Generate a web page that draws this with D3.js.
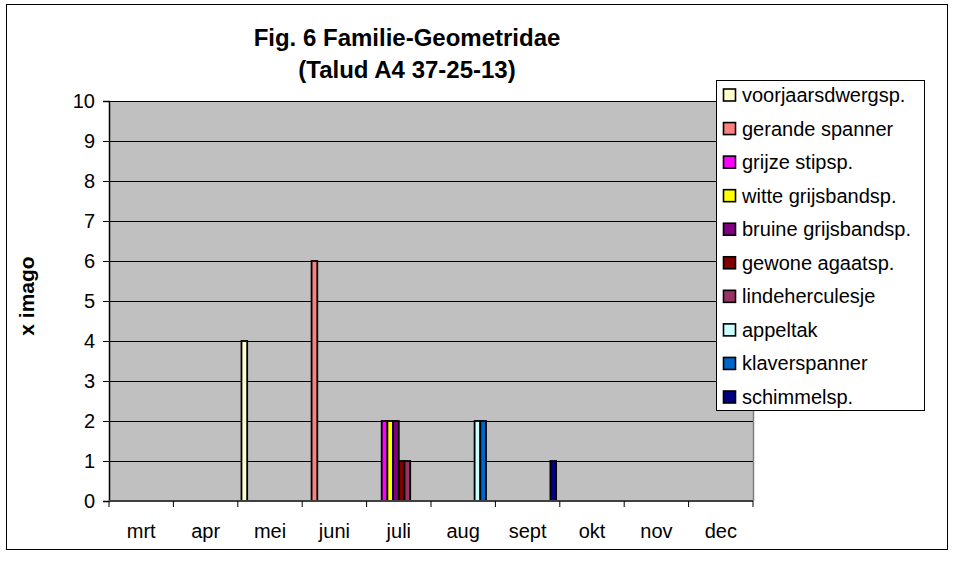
<!DOCTYPE html>
<html>
<head>
<meta charset="utf-8">
<script src="https://cdn.jsdelivr.net/npm/d3@7"></script>
<style>
  html, body { margin: 0; padding: 0; background: #fff; }
  svg { display: block; font-family: "Liberation Sans", Arial, sans-serif; }
</style>
</head>
<body>
<svg id="chart" width="957" height="567"></svg>
<script>
// ---- data ----
const months = ["mrt", "apr", "mei", "juni", "juli", "aug", "sept", "okt", "nov", "dec"];
const seriesNames = ["voorjaarsdwergsp.", "gerande spanner", "grijze stipsp.", "witte grijsbandsp.",
  "bruine grijsbandsp.", "gewone agaatsp.", "lindeherculesje", "appeltak", "klaverspanner", "schimmelsp."];
const seriesColors = ["#FFFFCC", "#FF8080", "#FF00FF", "#FFFF00", "#800080",
  "#800000", "#993366", "#CCFFFF", "#0066CC", "#000080"];
//                     mrt apr mei juni juli aug sept okt nov dec
const voorjaarsdwergsp = [0, 0, 4, 0, 0, 0, 0, 0, 0, 0];
const gerandeSpanner   = [0, 0, 0, 6, 0, 0, 0, 0, 0, 0];
const grijzeStipsp     = [0, 0, 0, 0, 2, 0, 0, 0, 0, 0];
const witteGrijsbandsp = [0, 0, 0, 0, 2, 0, 0, 0, 0, 0];
const bruineGrijsbandsp= [0, 0, 0, 0, 2, 0, 0, 0, 0, 0];
const gewoneAgaatsp    = [0, 0, 0, 0, 1, 0, 0, 0, 0, 0];
const lindeherculesje  = [0, 0, 0, 0, 1, 0, 0, 0, 0, 0];
const appeltak         = [0, 0, 0, 0, 0, 2, 0, 0, 0, 0];
const klaverspanner    = [0, 0, 0, 0, 0, 2, 0, 0, 0, 0];
const schimmelsp       = [0, 0, 0, 0, 0, 0, 1, 0, 0, 0];
const seriesValues = [voorjaarsdwergsp, gerandeSpanner, grijzeStipsp, witteGrijsbandsp,
  bruineGrijsbandsp, gewoneAgaatsp, lindeherculesje, appeltak, klaverspanner, schimmelsp];
const yTicks = [0, 1, 2, 3, 4, 5, 6, 7, 8, 9, 10];
const titleLines = ["Fig. 6 Familie-Geometridae", "(Talud A4 37-25-13)"];
const yTitle = "x imago";

// ---- layout ----
const svg = d3.select("#chart");
const plot = { left: 109, right: 753, top: 101, bottom: 501 };

// outer frame
svg.append("rect").attr("x", 6.5).attr("y", 4.5).attr("width", 941).attr("height", 545)
  .attr("fill", "#fff").attr("stroke", "#000").attr("stroke-width", 1);

const x0 = d3.scaleBand().domain(months).range([plot.left, plot.right]).padding(0);
const x1 = d3.scaleBand().domain(d3.range(seriesNames.length))
  .range([0, x0.bandwidth()]).paddingInner(0).paddingOuter(0.645);
const y = d3.scaleLinear().domain([0, 10]).range([plot.bottom, plot.top]);

// plot background
svg.append("rect").attr("x", plot.left).attr("y", plot.top)
  .attr("width", plot.right - plot.left).attr("height", plot.bottom - plot.top)
  .attr("fill", "#C0C0C0");
// right border of plot
svg.append("line").attr("x1", plot.right + 0.5).attr("x2", plot.right + 0.5)
  .attr("y1", plot.top).attr("y2", plot.bottom).attr("stroke", "#808080").attr("stroke-width", 1.5);

// gridlines
svg.append("g").selectAll("line").data(yTicks.filter(d => d > 0)).join("line")
  .attr("x1", plot.left).attr("x2", plot.right)
  .attr("y1", d => Math.round(y(d)) + 0.5).attr("y2", d => Math.round(y(d)) + 0.5)
  .attr("stroke", "#000").attr("stroke-width", 1);

// bars
const groups = svg.append("g").selectAll("g").data(seriesValues).join("g")
  .attr("fill", (d, i) => seriesColors[i]);
groups.each(function(vals, si) {
  d3.select(this).selectAll("rect")
    .data(vals.map((v, mi) => ({ v, m: months[mi] })).filter(d => d.v > 0))
    .join("rect")
    .attr("x", d => x0(d.m) + x1(si))
    .attr("width", x1.bandwidth())
    .attr("y", d => y(d.v))
    .attr("height", d => y(0) - y(d.v))
    .attr("stroke", "#000").attr("stroke-width", 1.8);
});

// y axis
const yAxis = d3.axisLeft(y).tickValues(yTicks).tickSize(6).tickPadding(8).tickFormat(d3.format("d"));
const gy = svg.append("g").attr("transform", `translate(${plot.left},0)`).call(yAxis);
gy.select(".domain").attr("stroke", "#000").attr("stroke-width", 1.5);
gy.selectAll(".tick line").attr("stroke", "#000");
gy.selectAll(".tick text").attr("font-size", 20).attr("fill", "#000")
  .attr("font-family", "'Liberation Sans', Arial, sans-serif");

// x axis: ticks at category boundaries
svg.append("line").attr("x1", plot.left).attr("x2", plot.right)
  .attr("y1", plot.bottom).attr("y2", plot.bottom).attr("stroke", "#404040").attr("stroke-width", 2);
const bounds = months.map(m => x0(m)).concat([plot.right]);
svg.append("g").selectAll("line").data(bounds).join("line")
  .attr("x1", d => d).attr("x2", d => d)
  .attr("y1", plot.bottom).attr("y2", plot.bottom + 6)
  .attr("stroke", "#000").attr("stroke-width", 1);
svg.append("g").selectAll("text").data(months).join("text")
  .attr("x", d => x0(d) + x0.bandwidth() / 2)
  .attr("y", 538)
  .attr("text-anchor", "middle")
  .attr("font-size", 20)
  .text(d => d);

// y title
svg.append("text")
  .attr("transform", "translate(34,296) rotate(-90)")
  .attr("text-anchor", "middle")
  .attr("font-size", 21).attr("font-weight", "bold")
  .text(yTitle);

// chart title
svg.append("g").selectAll("text").data(titleLines).join("text")
  .attr("x", 407).attr("y", (d, i) => 46 + i * 32)
  .attr("text-anchor", "middle")
  .attr("font-size", 24).attr("font-weight", "bold")
  .text(d => d);

// legend
const legend = svg.append("g");
legend.append("rect").attr("x", 716.5).attr("y", 80.5).attr("width", 208).attr("height", 330)
  .attr("fill", "#fff").attr("stroke", "#000").attr("stroke-width", 1);
const ly = d3.scalePoint().domain(d3.range(seriesNames.length)).range([95, 397]);
const items = legend.selectAll("g.item").data(seriesNames).join("g").attr("class", "item")
  .attr("transform", (d, i) => `translate(0,${ly(i)})`);
items.append("rect").attr("x", 723.5).attr("y", -6).attr("width", 12).attr("height", 12)
  .attr("fill", (d, i) => seriesColors[i]).attr("stroke", "#000").attr("stroke-width", 1.6);
items.append("text").attr("x", 742).attr("y", 7).attr("font-size", 20).text(d => d);
</script>
</body>
</html>
